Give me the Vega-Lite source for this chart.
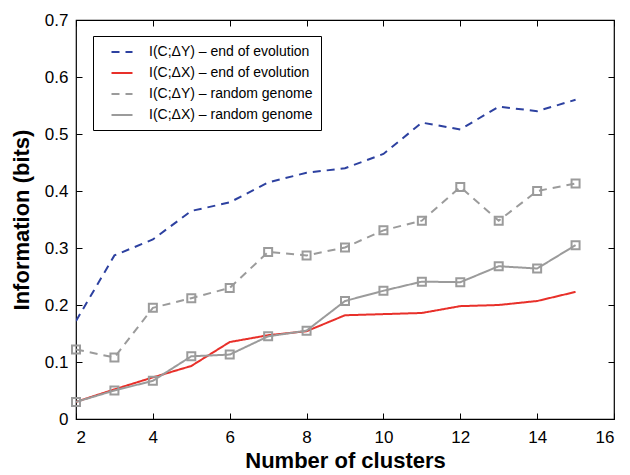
{
  "$schema": "https://vega.github.io/schema/vega-lite/v6.json",
  "width": 538,
  "height": 399,
  "autosize": {"type": "none"},
  "padding": {"left": 76, "top": 20, "right": 16, "bottom": 56},
  "background": "white",
  "config": {
    "font": "Liberation Sans",
    "view": {"stroke": "black", "strokeWidth": 1.2},
    "axis": {
      "domain": false, "tickColor": "black", "labelColor": "black", "titleColor": "black",
      "labelFont": "Liberation Sans", "labelFontSize": 17, "grid": false,
      "tickSize": 6, "offset": -6, "tickWidth": 1,
      "titleFont": "Liberation Sans", "titleFontSize": 22, "titleFontWeight": "bold"
    },
    "legend": {"labelFont": "Liberation Sans", "labelFontSize": 14, "labelColor": "black"}
  },
  "data": {"values": [
    {"k": 2, "s": "I(C;ΔY) – end of evolution", "v": 0.172},
    {"k": 3, "s": "I(C;ΔY) – end of evolution", "v": 0.287},
    {"k": 4, "s": "I(C;ΔY) – end of evolution", "v": 0.315},
    {"k": 5, "s": "I(C;ΔY) – end of evolution", "v": 0.365},
    {"k": 6, "s": "I(C;ΔY) – end of evolution", "v": 0.38},
    {"k": 7, "s": "I(C;ΔY) – end of evolution", "v": 0.415},
    {"k": 8, "s": "I(C;ΔY) – end of evolution", "v": 0.432},
    {"k": 9, "s": "I(C;ΔY) – end of evolution", "v": 0.44},
    {"k": 10, "s": "I(C;ΔY) – end of evolution", "v": 0.465},
    {"k": 11, "s": "I(C;ΔY) – end of evolution", "v": 0.52},
    {"k": 12, "s": "I(C;ΔY) – end of evolution", "v": 0.508},
    {"k": 13, "s": "I(C;ΔY) – end of evolution", "v": 0.548},
    {"k": 14, "s": "I(C;ΔY) – end of evolution", "v": 0.54},
    {"k": 15, "s": "I(C;ΔY) – end of evolution", "v": 0.56},
    {"k": 2, "s": "I(C;ΔX) – end of evolution", "v": 0.03},
    {"k": 3, "s": "I(C;ΔX) – end of evolution", "v": 0.052},
    {"k": 4, "s": "I(C;ΔX) – end of evolution", "v": 0.073},
    {"k": 5, "s": "I(C;ΔX) – end of evolution", "v": 0.093},
    {"k": 6, "s": "I(C;ΔX) – end of evolution", "v": 0.135},
    {"k": 7, "s": "I(C;ΔX) – end of evolution", "v": 0.147},
    {"k": 8, "s": "I(C;ΔX) – end of evolution", "v": 0.154},
    {"k": 9, "s": "I(C;ΔX) – end of evolution", "v": 0.182},
    {"k": 10, "s": "I(C;ΔX) – end of evolution", "v": 0.184},
    {"k": 11, "s": "I(C;ΔX) – end of evolution", "v": 0.186},
    {"k": 12, "s": "I(C;ΔX) – end of evolution", "v": 0.198},
    {"k": 13, "s": "I(C;ΔX) – end of evolution", "v": 0.2},
    {"k": 14, "s": "I(C;ΔX) – end of evolution", "v": 0.207},
    {"k": 15, "s": "I(C;ΔX) – end of evolution", "v": 0.223},
    {"k": 2, "s": "I(C;ΔY) – random genome", "v": 0.122},
    {"k": 3, "s": "I(C;ΔY) – random genome", "v": 0.108},
    {"k": 4, "s": "I(C;ΔY) – random genome", "v": 0.195},
    {"k": 5, "s": "I(C;ΔY) – random genome", "v": 0.212},
    {"k": 6, "s": "I(C;ΔY) – random genome", "v": 0.23},
    {"k": 7, "s": "I(C;ΔY) – random genome", "v": 0.293},
    {"k": 8, "s": "I(C;ΔY) – random genome", "v": 0.287},
    {"k": 9, "s": "I(C;ΔY) – random genome", "v": 0.301},
    {"k": 10, "s": "I(C;ΔY) – random genome", "v": 0.331},
    {"k": 11, "s": "I(C;ΔY) – random genome", "v": 0.348},
    {"k": 12, "s": "I(C;ΔY) – random genome", "v": 0.407},
    {"k": 13, "s": "I(C;ΔY) – random genome", "v": 0.348},
    {"k": 14, "s": "I(C;ΔY) – random genome", "v": 0.4},
    {"k": 15, "s": "I(C;ΔY) – random genome", "v": 0.413},
    {"k": 2, "s": "I(C;ΔX) – random genome", "v": 0.03},
    {"k": 3, "s": "I(C;ΔX) – random genome", "v": 0.05},
    {"k": 4, "s": "I(C;ΔX) – random genome", "v": 0.067},
    {"k": 5, "s": "I(C;ΔX) – random genome", "v": 0.11},
    {"k": 6, "s": "I(C;ΔX) – random genome", "v": 0.113},
    {"k": 7, "s": "I(C;ΔX) – random genome", "v": 0.145},
    {"k": 8, "s": "I(C;ΔX) – random genome", "v": 0.155},
    {"k": 9, "s": "I(C;ΔX) – random genome", "v": 0.207},
    {"k": 10, "s": "I(C;ΔX) – random genome", "v": 0.225},
    {"k": 11, "s": "I(C;ΔX) – random genome", "v": 0.241},
    {"k": 12, "s": "I(C;ΔX) – random genome", "v": 0.24},
    {"k": 13, "s": "I(C;ΔX) – random genome", "v": 0.268},
    {"k": 14, "s": "I(C;ΔX) – random genome", "v": 0.264},
    {"k": 15, "s": "I(C;ΔX) – random genome", "v": 0.305}
  ]},
  "layer": [
    {
      "mark": {"type": "line", "strokeWidth": 2, "clip": true},
      "encoding": {
        "x": {"field": "k", "type": "quantitative", "scale": {"domain": [2, 16], "nice": false},
              "axis": {"values": [2,4,6,8,10,12,14,16], "title": "Number of clusters", "labelPadding": 10, "titlePadding": 5}},
        "y": {"field": "v", "type": "quantitative", "scale": {"domain": [0, 0.7], "nice": false},
              "axis": {"values": [0,0.1,0.2,0.3,0.4,0.5,0.6,0.7], "format": ".1~f", "title": "Information (bits)", "labelPadding": 8, "titlePadding": 11}},
        "color": {"field": "s", "type": "nominal",
          "scale": {"domain": ["I(C;ΔY) – end of evolution", "I(C;ΔX) – end of evolution", "I(C;ΔY) – random genome", "I(C;ΔX) – random genome"],
                    "range": ["#2d41a0", "#e8302a", "#9b9b9b", "#9b9b9b"]},
          "legend": {"title": null, "orient": "none", "legendX": 17, "legendY": 16, "strokeColor": "black", "fillColor": "white",
                     "padding": 8, "symbolType": "M-1.5,0H1.5", "symbolSize": 196, "symbolStrokeWidth": 2, "rowPadding": 6, "labelOffset": 32, "labelLimit": 300, "cornerRadius": 0,
                     "encode": {"symbols": {"update": {"x": {"value": 21}}}}}},
        "strokeDash": {"field": "s", "type": "nominal",
          "scale": {"domain": ["I(C;ΔY) – end of evolution", "I(C;ΔX) – end of evolution", "I(C;ΔY) – random genome", "I(C;ΔX) – random genome"],
                    "range": [[8, 6], [1, 0], [8, 6], [1, 0]]},
          "legend": {"title": null, "orient": "none", "legendX": 17, "legendY": 16, "strokeColor": "black", "fillColor": "white",
                     "padding": 8, "symbolType": "M-1.5,0H1.5", "symbolSize": 196, "symbolStrokeWidth": 2, "rowPadding": 6, "labelOffset": 32, "labelLimit": 300, "cornerRadius": 0,
                     "encode": {"symbols": {"update": {"x": {"value": 21}}}}}}
      }
    },
    {
      "transform": [{"filter": "indexof(datum.s, 'random') >= 0"}],
      "mark": {"type": "point", "shape": "square", "filled": false, "size": 64, "strokeWidth": 2, "color": "#9b9b9b", "opacity": 1},
      "encoding": {
        "x": {"field": "k", "type": "quantitative", "axis": {"orient": "top", "values": [2,4,6,8,10,12,14,16], "labels": false, "title": null}},
        "y": {"field": "v", "type": "quantitative", "axis": {"orient": "right", "values": [0,0.1,0.2,0.3,0.4,0.5,0.6,0.7], "labels": false, "title": null}}
      }
    }
  ],
  "resolve": {"axis": {"x": "independent", "y": "independent"}}
}
